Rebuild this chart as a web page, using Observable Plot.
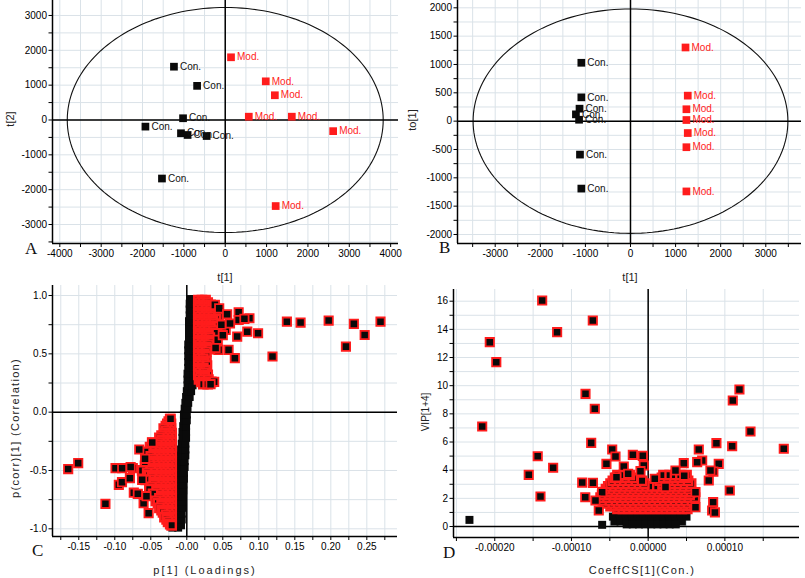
<!DOCTYPE html>
<html><head><meta charset="utf-8">
<script src="https://cdn.jsdelivr.net/npm/d3@7"></script>
<script src="https://cdn.jsdelivr.net/npm/@observablehq/plot@0.6"></script>
<style>
html,body{margin:0;padding:0;background:#fff;}
#root{position:relative;width:805px;height:578px;overflow:hidden;font-family:"Liberation Sans",Arial,sans-serif;}
.panel{position:absolute;}
.panel svg{overflow:visible;}
#overlay{position:absolute;left:0;top:0;pointer-events:none;}
</style></head><body>
<div id="root">
  <div class="panel" id="pA" style="left:0px;top:0px"></div>
  <div class="panel" id="pB" style="left:400px;top:0px"></div>
  <div class="panel" id="pC" style="left:0px;top:280px"></div>
  <div class="panel" id="pD" style="left:400px;top:280px"></div>
  <svg id="overlay" width="805" height="578" font-family="Liberation Sans, Arial, sans-serif" font-size="11" fill="#222">
    <g font-family="Liberation Serif, Times New Roman, serif" font-size="17" fill="#111">
      <text x="25" y="254">A</text>
      <text x="439" y="253">B</text>
      <text x="32" y="556">C</text>
      <text x="443" y="558">D</text>
    </g>
    <text x="225" y="281" text-anchor="middle">t[1]</text>
    <text transform="translate(14,119) rotate(-90)" text-anchor="middle">t[2]</text>
    <text x="630" y="281" text-anchor="middle">t[1]</text>
    <text transform="translate(416,120) rotate(-90)" text-anchor="middle">to[1]</text>
    <text x="205" y="574" text-anchor="middle" letter-spacing="2">p[1] (Loadings)</text>
    <text transform="translate(19,428) rotate(-90)" text-anchor="middle" letter-spacing="1.3">p(corr)[1] (Correlation)</text>
    <text x="642" y="574" text-anchor="middle" letter-spacing="1.4">CoeffCS[1](Con.)</text>
    <text transform="translate(429,412) rotate(-90)" text-anchor="middle" font-size="10">VIP[1+4]</text>
  </svg>
</div>
<script>
// ---------------- DATA ----------------
const conLabel = "Con.";
const modLabel = "Mod.";

// Panel A: PCA scores t[1], t[2]
const conA = [[-1240,1530],[-680,980],[-1020,50],[-1930,-190],[-1070,-380],[-910,-430],[-450,-460],[-1530,-1680]];
const modA = [[140,1800],[980,1110],[1200,710],[570,95],[1610,95],[2610,-320],[1220,-2470]];
const ellipseA = [3820, 3230];
const aXTicks = [-4000,-3500,-3000,-2500,-2000,-1500,-1000,-500,0,500,1000,1500,2000,2500,3000,3500,4000];
const aXLabels = ["-4000","","-3000","","-2000","","-1000","","0","","1000","","2000","","3000","","4000"];
const aYTicks = [-3500,-3000,-2500,-2000,-1500,-1000,-500,0,500,1000,1500,2000,2500,3000];
const aYLabels = ["","-3000","","-2000","","-1000","","0","","1000","","2000","","3000"];

// Panel B: OPLS-DA scores t[1], to[1]
const conB = [[-1090,1030],[-1090,420],[-1130,220],[-1210,120],[-1140,25],[-1120,-590],[-1090,-1190]];
const modB = [[1220,1300],[1270,450],[1240,210],[1240,20],[1270,-210],[1240,-460],[1240,-1240]];
const ellipseB = [3490, 1980];
const bXTicks = [-3500,-3000,-2500,-2000,-1500,-1000,-500,0,500,1000,1500,2000,2500,3000,3500];
const bXLabels = ["","-3000","","-2000","","-1000","","0","","1000","","2000","","3000",""];
const bYTicks = [-2000,-1750,-1500,-1250,-1000,-750,-500,-250,0,250,500,750,1000,1250,1500,1750,2000];
const bYLabels = ["-2000","","-1500","","-1000","","-500","","0","","500","","1000","","1500","","2000"];

// Panel C: S-plot  p[1] vs p(corr)[1]
// non-significant variables (black only), rows: [p(corr), [p values]]
const cNSRows = [
 [-0.99,[-0.020,-0.012]],[-0.97,[-0.016,-0.008]],[-0.93,[-0.018]],[-0.92,[-0.015,-0.007]],[-0.87,[-0.015,-0.007]],
 [-0.82,[-0.014,-0.006]],[-0.77,[-0.014,-0.006]],[-0.72,[-0.013,-0.006]],[-0.67,[-0.013,-0.005]],
 [-0.62,[-0.012,-0.005]],[-0.57,[-0.011,-0.004]],[-0.52,[-0.010,-0.004]],[-0.47,[-0.010,-0.003]],
 [-0.42,[-0.009,-0.003]],[-0.37,[-0.009,-0.002]],[-0.32,[-0.008,-0.002]],[-0.27,[-0.007,-0.002]],
 [-0.22,[-0.006,-0.001]],[-0.17,[-0.006,-0.001]],[-0.12,[-0.005,-0.001]],[-0.07,[-0.004,0.000]],
 [-0.02,[-0.004,0.000]],[0.03,[-0.003,0.001]],[0.08,[-0.002,0.002]],[0.13,[-0.001,0.004]],
 [0.18,[0.000,0.006]],[0.23,[0.001,0.008]],[0.28,[0.001,0.009]],[0.33,[0.001,0.009]],
 [0.38,[0.002,0.009]],[0.43,[0.002,0.009]],[0.48,[0.002,0.009]],[0.53,[0.002,0.009]],
 [0.58,[0.002,0.009]],[0.63,[0.003,0.009]],[0.68,[0.003,0.010]],[0.73,[0.003,0.010]],
 [0.78,[0.003,0.010]],[0.83,[0.004,0.010]],[0.88,[0.004,0.010]],[0.93,[0.004,0.010]],[0.97,[0.005,0.010]]
];
// significant variables, positive side (dense part)
const cPosRows = [
 [0.96,[0.016,0.021,0.026]],[0.94,[0.018,0.023,0.029]],[0.92,[0.016,0.021,0.027,0.033]],
 [0.90,[0.018,0.024,0.030,0.036]],[0.88,[0.016,0.021,0.027,0.033,0.040]],[0.86,[0.018,0.024,0.030,0.036,0.043]],
 [0.84,[0.016,0.021,0.027,0.033,0.039]],[0.82,[0.018,0.024,0.030,0.036,0.044]],[0.80,[0.016,0.021,0.027,0.033,0.040]],
 [0.78,[0.018,0.024,0.030,0.036]],[0.76,[0.016,0.021,0.027,0.033,0.038]],[0.74,[0.018,0.024,0.030,0.035,0.042]],
 [0.72,[0.016,0.021,0.027,0.033]],[0.70,[0.018,0.024,0.030,0.037]],[0.68,[0.016,0.021,0.027,0.033,0.041]],
 [0.66,[0.018,0.024,0.030]],[0.64,[0.016,0.021,0.027,0.032]],[0.62,[0.018,0.024,0.029]],
 [0.60,[0.016,0.021,0.027,0.033]],[0.58,[0.018,0.024,0.030]],[0.56,[0.016,0.021,0.027]],
 [0.54,[0.018,0.024,0.031]],[0.52,[0.016,0.021,0.027]],[0.50,[0.018,0.024]],[0.48,[0.016,0.021,0.027]],
 [0.46,[0.018,0.023]],[0.44,[0.016,0.021,0.027]],[0.42,[0.018,0.024]],[0.40,[0.016,0.021,0.028]],
 [0.38,[0.018,0.023]],[0.36,[0.016,0.021,0.026]],[0.34,[0.018,0.024]],[0.32,[0.016,0.022,0.029]],
 [0.30,[0.019,0.025]],[0.28,[0.017,0.023,0.030]],[0.26,[0.020,0.027,0.034]],[0.24,[0.023,0.029]]
];
const cPosOut = [[0.039,0.92],[0.045,0.89],[0.056,0.84],[0.072,0.857],[0.087,0.805],[0.072,0.79],[0.080,0.80],
 [0.099,0.677],[0.084,0.69],[0.070,0.648],[0.058,0.534],[0.0667,0.463],[0.044,0.534],[0.119,0.477],[0.054,0.705],
 [0.043,0.62],[0.048,0.75],[0.060,0.76],[0.038,0.26],[0.033,0.24],[0.139,0.776],[0.158,0.768],[0.197,0.785],
 [0.232,0.757],[0.269,0.776],[0.221,0.562],[0.247,0.662],[0.050,0.66],[0.040,0.55]];
// significant variables, negative side (dense part)
const cNegRows = [
 [-0.06,[-0.023]],[-0.08,[-0.025]],[-0.10,[-0.022,-0.027]],[-0.12,[-0.024,-0.029]],
 [-0.14,[-0.022,-0.027,-0.032]],[-0.16,[-0.024,-0.029]],[-0.18,[-0.021,-0.026,-0.031]],
 [-0.20,[-0.024,-0.029,-0.035]],[-0.22,[-0.021,-0.026,-0.032,-0.038]],[-0.24,[-0.024,-0.029,-0.035]],
 [-0.26,[-0.021,-0.026,-0.032,-0.038,-0.048]],[-0.28,[-0.024,-0.029,-0.035,-0.041]],
 [-0.30,[-0.021,-0.026,-0.032,-0.038,-0.044,-0.051]],[-0.32,[-0.024,-0.029,-0.035,-0.041,-0.047]],
 [-0.34,[-0.021,-0.026,-0.032,-0.038,-0.043,-0.049,-0.056]],[-0.36,[-0.024,-0.029,-0.035,-0.041,-0.046]],
 [-0.38,[-0.021,-0.026,-0.032,-0.038,-0.044,-0.050]],[-0.40,[-0.024,-0.029,-0.035,-0.041,-0.047]],
 [-0.42,[-0.021,-0.026,-0.032,-0.038,-0.043,-0.049,-0.055]],[-0.44,[-0.024,-0.029,-0.035,-0.041,-0.046,-0.052]],
 [-0.46,[-0.021,-0.026,-0.032,-0.038,-0.044,-0.051,-0.058]],[-0.48,[-0.024,-0.029,-0.035,-0.041,-0.047]],
 [-0.50,[-0.021,-0.026,-0.032,-0.038,-0.043,-0.050,-0.062]],[-0.52,[-0.024,-0.029,-0.035,-0.041,-0.047,-0.055]],
 [-0.54,[-0.021,-0.026,-0.032,-0.038,-0.045,-0.052]],[-0.56,[-0.024,-0.029,-0.035,-0.041,-0.048]],
 [-0.58,[-0.021,-0.026,-0.032,-0.038,-0.043,-0.050,-0.057]],[-0.60,[-0.024,-0.029,-0.035,-0.041,-0.046]],
 [-0.62,[-0.021,-0.026,-0.032,-0.038,-0.045]],[-0.64,[-0.024,-0.029,-0.035,-0.041,-0.049]],
 [-0.66,[-0.021,-0.026,-0.032,-0.038,-0.044,-0.052]],[-0.68,[-0.024,-0.029,-0.035,-0.042]],
 [-0.70,[-0.021,-0.026,-0.032,-0.039,-0.047]],[-0.72,[-0.024,-0.029,-0.035]],
 [-0.74,[-0.021,-0.026,-0.032,-0.038]],[-0.76,[-0.024,-0.029,-0.035,-0.043]],
 [-0.78,[-0.021,-0.026,-0.032,-0.040]],[-0.80,[-0.024,-0.029,-0.035]],
 [-0.82,[-0.021,-0.026,-0.032,-0.038]],[-0.84,[-0.024,-0.029,-0.035]],
 [-0.86,[-0.021,-0.026,-0.033]],[-0.88,[-0.024,-0.029]],[-0.90,[-0.021,-0.026,-0.031]],
 [-0.92,[-0.024,-0.028]],[-0.94,[-0.021,-0.026]],[-0.96,[-0.023]],[-0.97,[-0.021]]
];
const cNegOut = [[-0.0226,-0.057],[-0.048,-0.26],[-0.066,-0.32],[-0.099,-0.48],[-0.0897,-0.48],[-0.075,-0.48],
 [-0.0944,-0.623],[-0.090,-0.60],[-0.079,-0.566],[-0.113,-0.786],[-0.0736,-0.69],[-0.068,-0.70],[-0.060,-0.78],
 [-0.053,-0.866],[-0.1647,-0.488],[-0.1508,-0.437],[-0.078,-0.47],[-0.058,-0.40],[-0.062,-0.58],[-0.056,-0.72]];
const cXTicks = [-0.175,-0.15,-0.125,-0.1,-0.075,-0.05,-0.025,0,0.025,0.05,0.075,0.1,0.125,0.15,0.175,0.2,0.225,0.25,0.275];
const cXLabels = ["","-0.15","","-0.10","","-0.05","","-0.00","","0.05","","0.10","","0.15","","0.20","","0.25",""];
const cYTicks = [-1,-0.75,-0.5,-0.25,0,0.25,0.5,0.75,1];
const cYLabels = ["-1.0","","-0.5","","0.0","","0.5","","1.0"];

// Panel D: CoeffCS[1](Con.) (in units of 1e-5) vs VIP[1+4]
const dUnit = 1e-5;
const dNSRows = [
 [1.05,[-4.2,-3.4,-2.6,-1.8,-1.0,-0.2,0.6,1.4,2.2,3.0,3.8,4.4]],
 [0.70,[-4.6,-3.8,-3.0,-2.2,-1.4,-0.6,0.2,1.0,1.8,2.6,3.4,4.2,5.0]],
 [0.35,[-4.4,-3.6,-2.8,-2.0,-1.2,-0.4,0.4,1.2,2.0,2.8,3.6,4.4]],
 [0.15,[-2.8,-2.0,-1.2,-0.4,0.4,1.2,2.0,2.8,3.6]]
];
const dNSOut = [[-23.3,0.47],[-6.0,0.12]];
const dSigRows = [
 [1.25,[-4.0,-3.3,-2.6,-1.9,-1.2,-0.5,0.2,0.9,1.6,2.3,3.0,3.7,4.4,5.1]],
 [1.45,[-4.9,-4.3,-3.6,-2.9,-2.2,-1.5,-0.8,-0.1,0.6,1.3,2.0,2.7,3.4,4.1,4.8,5.6]],
 [1.65,[-5.6,-4.6,-3.9,-3.2,-2.5,-1.8,-1.1,-0.4,0.3,1.0,1.7,2.4,3.1,3.8,4.5,5.2,6.0]],
 [1.85,[-5.9,-5.0,-4.2,-3.5,-2.8,-2.1,-1.4,-0.7,0.0,0.7,1.4,2.1,2.8,3.5,4.2,4.9,5.7]],
 [2.05,[-6.2,-5.3,-4.5,-3.8,-3.1,-2.4,-1.7,-1.0,-0.3,0.4,1.1,1.8,2.5,3.2,3.9,4.6,5.3,6.1]],
 [2.25,[-6.0,-5.1,-4.4,-3.7,-3.0,-2.3,-1.6,-0.9,-0.2,0.5,1.2,1.9,2.6,3.3,4.0,4.7,5.4]],
 [2.45,[-5.8,-4.9,-4.2,-3.5,-2.8,-2.1,-1.4,-0.7,0.0,0.7,1.4,2.1,2.8,3.5,4.2,4.9,5.6]],
 [2.65,[-5.5,-4.6,-3.9,-3.2,-2.5,-1.8,-1.1,-0.4,0.3,1.0,1.7,2.4,3.1,3.8,4.5,5.3]],
 [2.85,[-5.2,-4.4,-3.7,-3.0,-2.3,-1.6,-0.9,-0.2,0.5,1.2,1.9,2.6,3.3,4.0,4.7,5.5]],
 [3.05,[-4.9,-4.1,-3.4,-2.7,-2.0,-1.2,-0.5,1.9,2.6,3.3,4.0,4.8,5.6]],
 [3.25,[-4.6,-3.8,-3.1,-2.4,-1.6,-0.8,1.5,2.3,3.0,3.7,4.4,5.2]],
 [3.45,[-4.3,-3.5,-2.8,-2.0,1.8,2.6,3.4,4.1,4.9]],
 [3.65,[-4.0,-3.2,-2.4,2.0,2.8,3.5,4.2,5.0]]
];
const dSigOut = [[-13.82,16.05],[-7.22,14.63],[-11.87,13.8],[-20.65,13.09],[-19.8,11.67],[-8.17,9.42],[-6.96,8.36],
 [-21.64,7.1],[-7.43,5.94],[-14.4,4.99],[-15.57,3.67],[-12.39,4.17],[-14.04,2.13],[-8.6,3.12],[-8.2,2.08],[-7.2,3.1],
 [11.9,9.73],[11.03,8.95],[13.34,6.75],[17.68,5.52],[10.95,5.7],[8.9,5.92],[6.6,5.47],[7.04,4.69],[9.2,4.45],
 [10.64,2.56],[4.64,4.5],[6.39,4.57],[8.5,3.9],[8.12,3.98],[7.9,3.27],[8.47,1.73],[8.34,1.14],[6.17,2.44],[6.17,1.37],
 [3.56,3.98],[-4.69,5.47],[-4.26,4.97],[-5.44,4.45],[-2.0,5.09],[-0.7,5.02],[-3.18,4.26],[-0.57,4.33],[0.86,3.39],
 [-4.13,3.5],[-2.61,3.74],[-6.44,1.14],[-6.0,2.44],[-6.87,1.85],[2.26,2.8],[4.7,3.6],[8.7,1.0],[-1.0,3.93]];
const dXTicks = [-0.00025,-0.0002,-0.00015,-0.0001,-0.00005,0,0.00005,0.0001,0.00015];
const dXLabels = ["","-0.00020","","-0.00010","","0.00000","","0.00010",""];
const dYTicks = [0,1,2,3,4,5,6,7,8,9,10,11,12,13,14,15,16];
const dYLabels = ["0","","2","","4","","6","","8","","10","","12","","14","","16"];

// ---------------- STYLE ----------------
const BLACK = "#0a0a0a", RED = "#ff1c1c", GRID = "#dae2e8";
const fromRows = rows => rows.flatMap(([y, xs]) => xs.map(x => [x, y]));
const fmt = (ticks, labels) => { const m = new Map(ticks.map((t, i) => [t, labels[i]])); return d => m.get(d) ?? ""; };
const ellipsePts = ([a, b]) => d3.range(0, 361, 2).map(t => ({x: a * Math.cos(t * Math.PI / 180), y: b * Math.sin(t * Math.PI / 180)}));

function makePanel(o) {
  const marks = [
    Plot.ruleX(o.xTicks, {stroke: GRID, strokeWidth: 1}),
    Plot.ruleY(o.yTicks, {stroke: GRID, strokeWidth: 1}),
    ...o.marks,
    Plot.ruleX([0], {stroke: "#000", strokeWidth: 1.5}),
    Plot.ruleY([0], {stroke: "#000", strokeWidth: 1.5}),
    Plot.ruleY([o.yDomain[0]], {stroke: "#000", strokeWidth: 1.5}),
    Plot.ruleX([o.xDomain[0]], {stroke: "#000", strokeWidth: 1.5}),
    ...o.front
  ];
  return Plot.plot({
    width: o.width, height: o.height,
    marginLeft: o.ml, marginRight: o.mr, marginTop: o.mt, marginBottom: o.mb,
    style: {fontFamily: "Liberation Sans, Arial, sans-serif", fontSize: "10px", color: "#000", background: "transparent", overflow: "visible"},
    x: {domain: o.xDomain, ticks: o.xTicks, tickFormat: fmt(o.xTicks, o.xLabels), tickSize: 4, tickPadding: 2, label: null},
    y: {domain: o.yDomain, ticks: o.yTicks, tickFormat: fmt(o.yTicks, o.yLabels), tickSize: 3.5, tickPadding: 2, label: null},
    marks
  });
}

const ellipseMark = ell => Plot.line(ellipsePts(ell), {x: "x", y: "y", stroke: "#111", strokeWidth: 1.1});
function scoreFront(con, mod) {
  return [
    Plot.dot(con, {x: d => d[0], y: d => d[1], symbol: "square", r: 4.35, fill: BLACK, stroke: "none"}),
    Plot.text(con, {x: d => d[0], y: d => d[1], text: () => conLabel, dx: 6, textAnchor: "start", fill: "#111", fontSize: 10}),
    Plot.dot(mod, {x: d => d[0], y: d => d[1], symbol: "square", r: 4.35, fill: RED, stroke: "none"}),
    Plot.text(mod, {x: d => d[0], y: d => d[1], text: () => modLabel, dx: 6, textAnchor: "start", fill: RED, fontSize: 10})
  ];
}

document.getElementById("pA").append(makePanel({
  width: 400, height: 285, ml: 52, mr: 2, mt: 0, mb: 42,
  xDomain: [-4177, 4190], yDomain: [-3545, 3430],
  xTicks: aXTicks, xLabels: aXLabels, yTicks: aYTicks, yLabels: aYLabels,
  marks: [ellipseMark(ellipseA)], front: scoreFront(conA, modA)
}));

document.getElementById("pB").append(makePanel({
  width: 405, height: 285, ml: 57, mr: 4, mt: 0, mb: 42,
  xDomain: [-3836, 3792], yDomain: [-2159, 2129],
  xTicks: bXTicks, xLabels: bXLabels, yTicks: bYTicks, yLabels: bYLabels,
  marks: [ellipseMark(ellipseB)], front: scoreFront(conB, modB)
}));

const sigDot = (data, sx, sw) => Plot.dot(data, {x: d => d[0] * sx, y: d => d[1], symbol: "square", r: 4.7, fill: BLACK, stroke: RED, strokeWidth: sw});
const nsDot = (data, sx) => Plot.dot(data, {x: d => d[0] * sx, y: d => d[1], symbol: "square", r: 4.5, fill: BLACK, stroke: "none"});

document.getElementById("pC").append(makePanel({
  width: 400, height: 298, ml: 52, mr: 3, mt: 5, mb: 42,
  xDomain: [-0.1865, 0.2926], yDomain: [-1.066, 1.086],
  xTicks: cXTicks, xLabels: cXLabels, yTicks: cYTicks, yLabels: cYLabels,
  marks: [],
  front: [
    nsDot(fromRows(cNSRows), 1),
    sigDot(fromRows(cPosRows), 1, 2.4), sigDot(cPosOut, 1, 1.8),
    sigDot(fromRows(cNegRows), 1, 2.4), sigDot(cNegOut, 1, 1.8)
  ]
}));

document.getElementById("pD").append(makePanel({
  width: 405, height: 298, ml: 53, mr: 6, mt: 9, mb: 41,
  xDomain: [-2.538e-4, 1.973e-4], yDomain: [-0.78, 16.83],
  xTicks: dXTicks, xLabels: dXLabels, yTicks: dYTicks, yLabels: dYLabels,
  marks: [],
  front: [
    nsDot(fromRows(dNSRows), dUnit), nsDot(dNSOut, dUnit),
    sigDot(fromRows(dSigRows), dUnit, 2.4), sigDot(dSigOut, dUnit, 1.8)
  ]
}));
</script>
</body></html>
